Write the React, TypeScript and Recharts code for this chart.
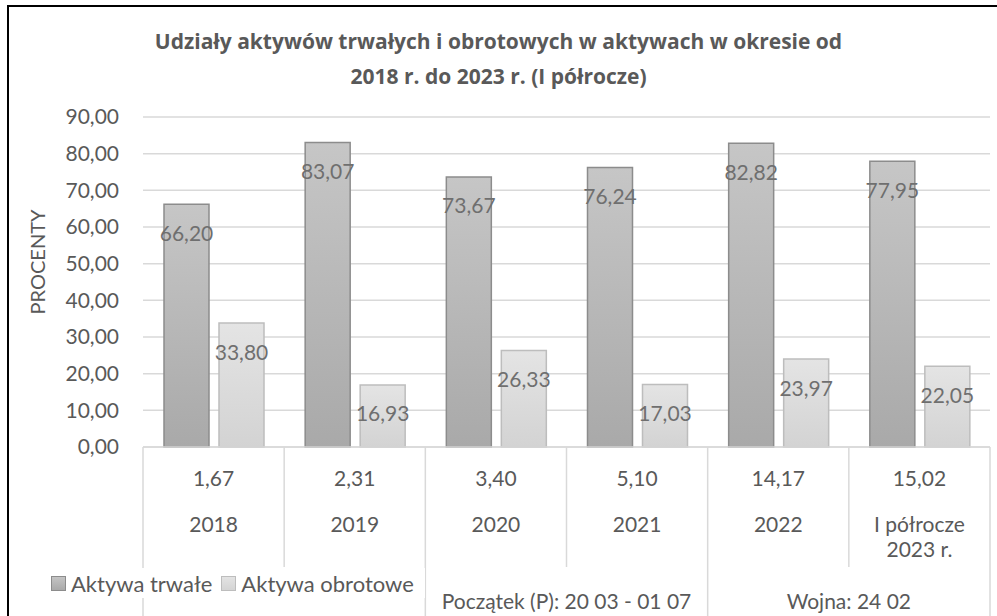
import React from 'react';
import { BarChart, Bar, XAxis, YAxis, CartesianGrid, Legend, LabelList } from 'recharts';

const years = ['2018', '2019', '2020', '2021', '2022', 'I półrocze\n2023 r.'];
const ratios = ['1,67', '2,31', '3,40', '5,10', '14,17', '15,02'];
const periods = ['', '', 'Początek (P): 20 03 - 01 07', 'Początek (P): 20 03 - 01 07', 'Wojna: 24 02', 'Wojna: 24 02'];
const fixedAssets = [66.2, 83.07, 73.67, 76.24, 82.82, 77.95];
const currentAssets = [33.8, 16.93, 26.33, 17.03, 23.97, 22.05];
const yTicks = [0, 10, 20, 30, 40, 50, 60, 70, 80, 90];

const data = years.map((year, i) => ({
  year,
  ratio: ratios[i],
  period: periods[i],
  trwale: fixedAssets[i],
  obrotowe: currentAssets[i],
}));

const W = 997;
const H = 616;
const MARGIN = { top: 117, right: 7, bottom: 0, left: 0 };
const Y_AXIS_W = 143;
const BAND = (W - MARGIN.left - MARGIN.right - Y_AXIS_W) / data.length;
const ROW_R = 47;
const ROW_Y = 73;
const ROW_G = 49;

const FONT = 'Lato, "Open Sans", sans-serif';
const TITLE_FONT = '"Open Sans", Lato, sans-serif';
const TEXT = '#595959';
const LINE = '#d9d9d9';

const fmt = (v: number) => v.toFixed(2).replace('.', ',');

const isGroupStart = (i: number) => i === 0 || periods[i] !== periods[i - 1];

// first table row: ratio values + the column separators of the whole table
const RatioTick = (props: any) => {
  const { x, y, payload, index } = props;
  const left = x - BAND / 2;
  return (
    <g>
      <line x1={left} x2={left} y1={y} y2={y + (isGroupStart(index) ? ROW_R + ROW_Y + ROW_G : ROW_R + ROW_Y)} stroke={LINE} strokeWidth={1.5} />
      {index === data.length - 1 && (
        <line x1={x + BAND / 2} x2={x + BAND / 2} y1={y} y2={y + ROW_R + ROW_Y + ROW_G} stroke={LINE} strokeWidth={1.5} />
      )}
      <text x={x} y={y + 30} textAnchor="middle" dominantBaseline="central" fill={TEXT} fontSize={21} fontFamily={FONT}>
        {payload.value}
      </text>
    </g>
  );
};

const YearTick = (props: any) => {
  const { x, y, payload } = props;
  const lines = String(payload.value).split('\n');
  return (
    <g>
      {lines.map((l, k) => (
        <text key={k} x={x} y={y + 29 + k * 25} textAnchor="middle" dominantBaseline="central" fill={TEXT} fontSize={21} fontFamily={FONT}>
          {l}
        </text>
      ))}
    </g>
  );
};

const PeriodTick = (props: any) => {
  const { x, y, index } = props;
  if (!isGroupStart(index) || !periods[index]) return <g />;
  let span = 1;
  while (index + span < periods.length && periods[index + span] === periods[index]) span++;
  return (
    <text x={x + ((span - 1) * BAND) / 2} y={y + 33} textAnchor="middle" dominantBaseline="central" fill={TEXT} fontSize={21} fontFamily={FONT}>
      {periods[index]}
    </text>
  );
};

const BarLabel = (props: any) => {
  const { x, y, width, value } = props;
  return (
    <text x={x + width / 2} y={y + 28} textAnchor="middle" dominantBaseline="central" fill="#6f6f6f" fontSize={21} fontFamily={FONT}>
      {fmt(value)}
    </text>
  );
};

const YLabel = (props: any) => {
  const vb = props.viewBox || { y: MARGIN.top, height: 330 };
  const cy = vb.y + vb.height / 2 - 20;
  return (
    <text x={37} y={cy} transform={`rotate(-90 37 ${cy})`} textAnchor="middle" dominantBaseline="central" fill={TEXT} fontSize={20} fontFamily={FONT}>
      PROCENTY
    </text>
  );
};

const legendItems = [
  { name: 'Aktywa trwałe', from: '#c4c4c4', to: '#a9a9a9', border: '#8c8c8c' },
  { name: 'Aktywa obrotowe', from: '#e3e3e3', to: '#d4d4d4', border: '#bdbdbd' },
];

const LegendContent = () => (
  <div style={{ display: 'flex', alignItems: 'center', height: 30, fontFamily: FONT, fontSize: 22, color: TEXT, whiteSpace: 'nowrap' }}>
    {legendItems.map((it) => (
      <div key={it.name} style={{ display: 'flex', alignItems: 'center', marginRight: 9 }}>
        <span
          style={{
            display: 'inline-block',
            width: 13,
            height: 13,
            border: `1px solid ${it.border}`,
            background: `linear-gradient(${it.from}, ${it.to})`,
            marginRight: 5,
          }}
        />
        <span>{it.name}</span>
      </div>
    ))}
  </div>
);

export default function App() {
  return (
    <div style={{ position: 'absolute', left: 0, top: 0, width: W, height: H, overflow: 'hidden', background: '#fff' }}>
      <div style={{ position: 'absolute', left: 7, top: 5, width: W + 20, height: H + 20, borderLeft: '2px solid #000', borderTop: '2px solid #000' }} />
      <div
        style={{
          position: 'absolute',
          left: 0,
          top: 24,
          width: W,
          textAlign: 'center',
          fontFamily: TITLE_FONT,
          fontWeight: 700,
          fontSize: 21,
          lineHeight: '35px',
          color: TEXT,
        }}
      >
        Udziały aktywów trwałych i obrotowych w aktywach w okresie od
        <br />
        2018 r. do 2023 r. (I półrocze)
      </div>
      <div style={{ position: 'absolute', left: 0, top: 0 }}>
        <BarChart width={W} height={H} data={data} margin={MARGIN} barCategoryGap={21} barGap={10}>
          <defs>
            <linearGradient id="gDark" x1="0" y1="0" x2="0" y2="1">
              <stop offset="0%" stopColor="#c6c6c6" />
              <stop offset="100%" stopColor="#a9a9a9" />
            </linearGradient>
            <linearGradient id="gLight" x1="0" y1="0" x2="0" y2="1">
              <stop offset="0%" stopColor="#e4e4e4" />
              <stop offset="100%" stopColor="#d3d3d3" />
            </linearGradient>
          </defs>
          <CartesianGrid xAxisId="a" vertical={false} stroke={LINE} strokeWidth={1.5} />
          <XAxis
            xAxisId="a"
            dataKey="ratio"
            height={ROW_R}
            interval={0}
            tickSize={0}
            tickMargin={0}
            tickLine={false}
            axisLine={{ stroke: LINE, strokeWidth: 1.5 }}
            tick={<RatioTick />}
          />
          <XAxis xAxisId="b" dataKey="year" height={ROW_Y} interval={0} tickSize={0} tickMargin={0} tickLine={false} axisLine={false} tick={<YearTick />} />
          <XAxis xAxisId="c" dataKey="year" height={ROW_G} interval={0} tickSize={0} tickMargin={0} tickLine={false} axisLine={false} tick={<PeriodTick />} />
          <YAxis
            width={Y_AXIS_W}
            domain={[0, 90]}
            ticks={yTicks}
            tickFormatter={fmt}
            tickSize={0}
            tickMargin={24}
            tickLine={false}
            axisLine={false}
            tick={{ fill: TEXT, fontSize: 21, fontFamily: FONT }}
            label={<YLabel />}
          />
          <Legend
            layout="horizontal"
            verticalAlign="middle"
            align="center"
            wrapperStyle={{ left: 51, top: 568, width: 'auto', height: 30, background: '#fff', paddingRight: 2 }}
            content={<LegendContent />}
          />
          <Bar xAxisId="a" dataKey="trwale" name="Aktywa trwałe" fill="url(#gDark)" stroke="#8c8c8c" strokeWidth={1.5} isAnimationActive={false}>
            <LabelList dataKey="trwale" content={<BarLabel />} />
          </Bar>
          <Bar xAxisId="a" dataKey="obrotowe" name="Aktywa obrotowe" fill="url(#gLight)" stroke="#bdbdbd" strokeWidth={1.5} isAnimationActive={false}>
            <LabelList dataKey="obrotowe" content={<BarLabel />} />
          </Bar>
        </BarChart>
      </div>
    </div>
  );
}
